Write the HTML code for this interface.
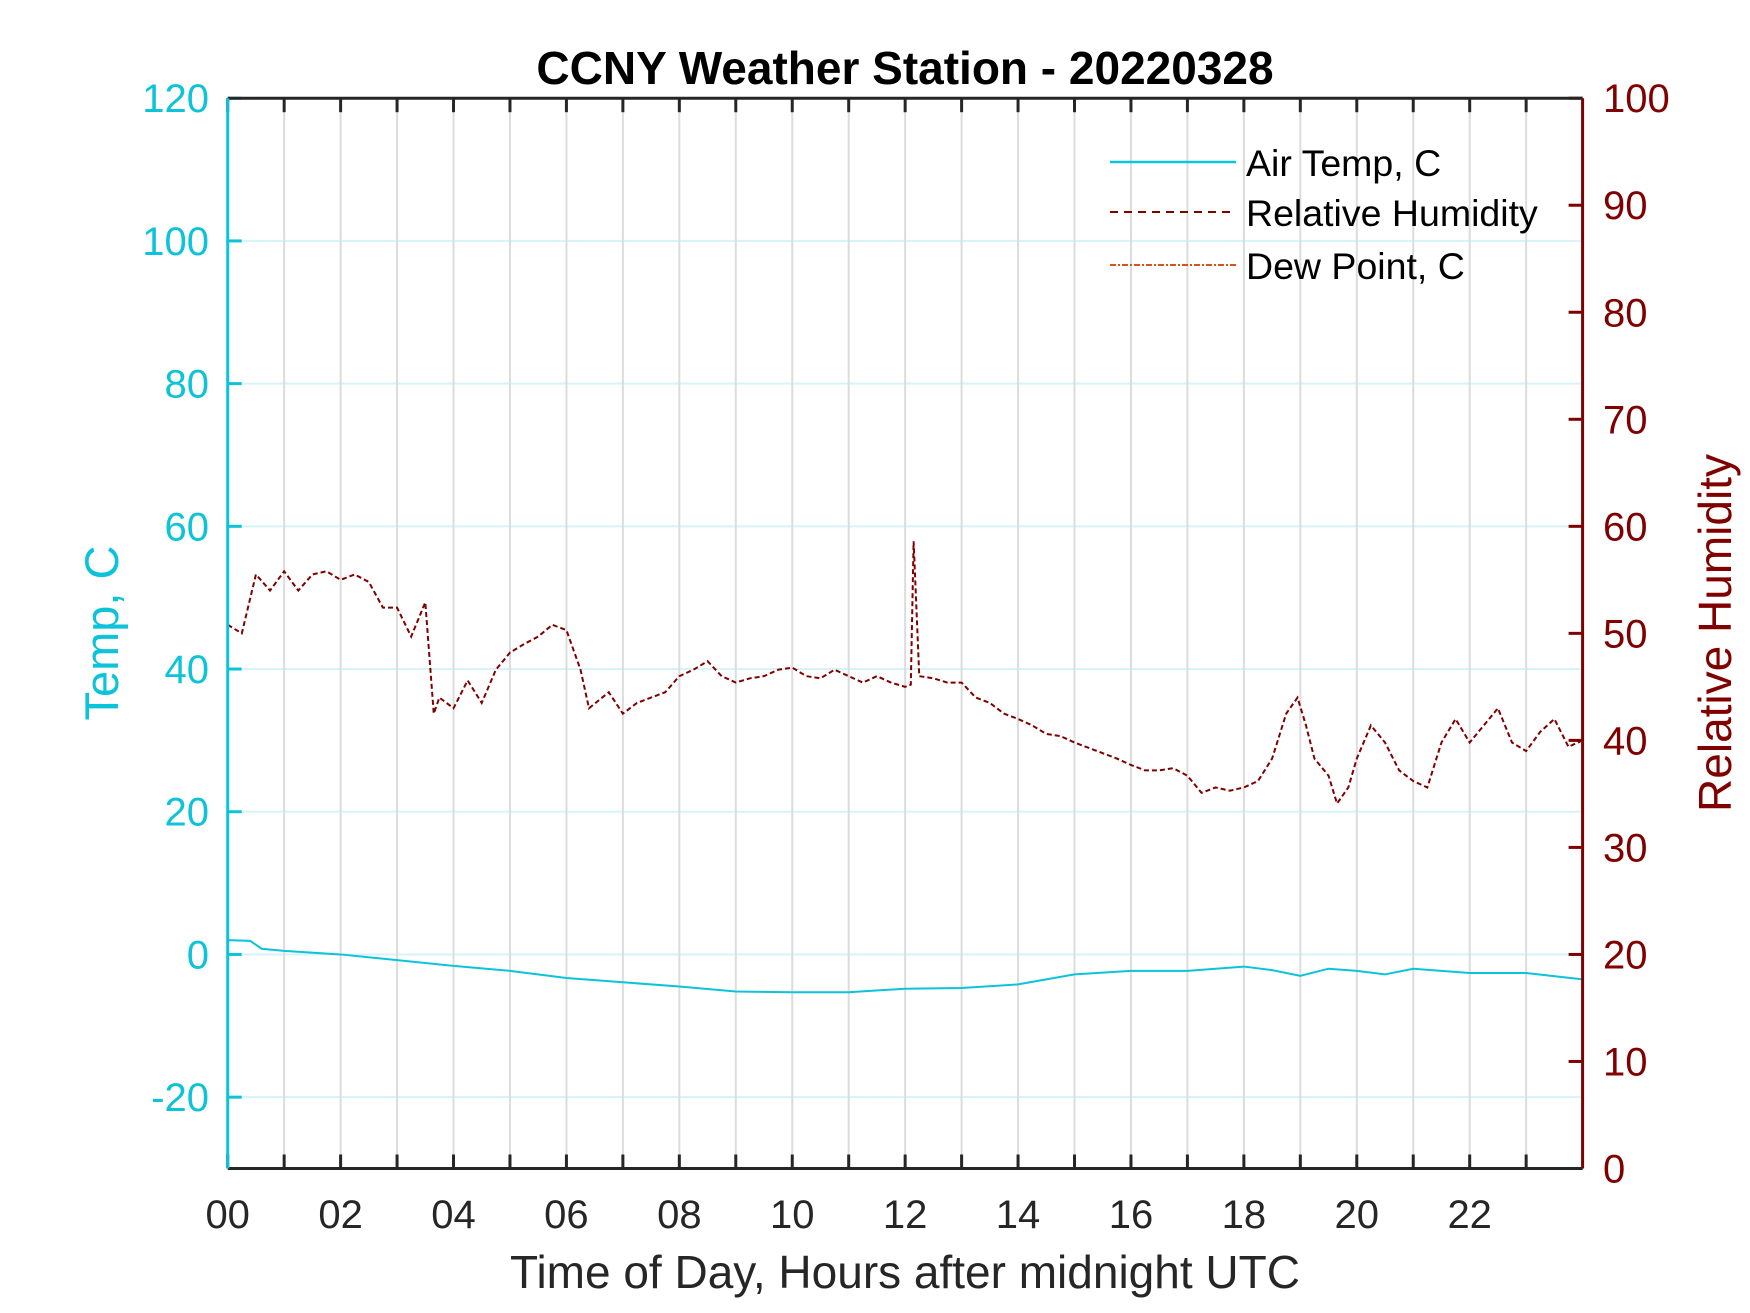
<!DOCTYPE html>
<html><head><meta charset="utf-8"><style>
html,body{margin:0;padding:0;background:#fff;}
svg{display:block;font-family:"Liberation Sans",Arial,sans-serif;}
</style></head><body>
<svg id="chart" width="1750" height="1313" viewBox="0 0 1750 1313" xmlns="http://www.w3.org/2000/svg">
<g id="grid"></g>
<g id="series"></g>
<g id="axes"></g>
<text x="905" y="84" text-anchor="middle" font-size="46" font-weight="bold" fill="#000">CCNY Weather Station - 20220328</text>
<text x="905" y="1288" text-anchor="middle" font-size="46" fill="#262626">Time of Day, Hours after midnight UTC</text>
<text transform="translate(118,633) rotate(-90)" text-anchor="middle" font-size="47" fill="#0cc3d9">Temp, C</text>
<text transform="translate(1731,633) rotate(-90)" text-anchor="middle" font-size="46" fill="#800000">Relative Humidity</text>
<g>
<line x1="1110" y1="162" x2="1236" y2="162" stroke="#0cc3d9" stroke-width="2.5"/>
<text x="1246" y="176" font-size="37.5" fill="#000">Air Temp, C</text>
<line x1="1110" y1="212" x2="1236" y2="212" stroke="#800000" stroke-width="2" stroke-dasharray="8,6"/>
<text x="1246" y="226" font-size="37.5" fill="#000">Relative Humidity</text>
<line x1="1110" y1="265" x2="1236" y2="265" stroke="#d95319" stroke-width="2" stroke-dasharray="6,2,2,2"/>
<text x="1246" y="279" font-size="37.5" fill="#000">Dew Point, C</text>
</g>
</svg>
<script>
const rhHours=[0,0.25,0.5,0.75,1,1.25,1.5,1.75,2,2.25,2.5,2.75,3,3.25,3.5,3.65,3.75,4,4.25,4.5,4.75,5,5.25,5.5,5.75,6,6.25,6.4,6.75,7,7.25,7.5,7.75,8,8.25,8.5,8.75,9,9.25,9.5,9.75,10,10.25,10.5,10.75,11,11.25,11.5,11.75,12,12.1,12.15,12.25,12.5,12.75,13,13.25,13.5,13.75,14,14.25,14.5,14.75,15,15.25,15.5,15.75,16,16.25,16.5,16.75,17,17.25,17.5,17.75,18,18.25,18.5,18.75,18.95,19.1,19.25,19.5,19.65,19.85,20,20.25,20.5,20.75,21,21.25,21.5,21.75,22,22.25,22.5,22.75,23,23.25,23.5,23.75,24];
const rhValues=[50.8,50,55.5,54,55.8,54,55.5,55.8,55,55.5,54.8,52.4,52.4,49.7,52.9,42.5,44,43,45.6,43.5,46.6,48.2,49,49.7,50.8,50.3,46.6,43,44.5,42.5,43.5,44,44.5,46,46.6,47.4,46,45.4,45.8,46,46.6,46.8,46,45.8,46.6,46,45.4,46,45.4,45,45.2,58.6,46,45.8,45.4,45.4,44,43.5,42.5,42,41.4,40.6,40.4,39.8,39.3,38.8,38.3,37.7,37.2,37.2,37.4,36.7,35.1,35.6,35.3,35.6,36.2,38.3,42.5,44,41.4,38.3,36.7,34.1,35.6,38.3,41.4,39.8,37.2,36.2,35.6,39.8,42,39.8,41.4,43,39.8,39,40.8,42,39.4,40];
const tempHours=[0,0.4,0.6,1,2,3,4,5,6,7,8,9,10,11,12,13,14,15,16,17,18,18.5,19,19.5,20,20.5,21,22,23,24];
const tempValues=[2.0,1.9,0.8,0.5,0,-0.8,-1.6,-2.3,-3.3,-3.9,-4.5,-5.2,-5.3,-5.3,-4.8,-4.7,-4.2,-2.8,-2.3,-2.3,-1.7,-2.2,-3.0,-2.0,-2.3,-2.8,-2.0,-2.6,-2.6,-3.5];
const xTickLabels=["00","02","04","06","08","10","12","14","16","18","20","22"];
const leftTicks=[-20,0,20,40,60,80,100,120];
const rightTicks=[0,10,20,30,40,50,60,70,80,90,100];

const X0=227.7,X1=1582.6,Y0=98.2,Y1=1168.5;
const NS="http://www.w3.org/2000/svg";
const xs=h=>X0+(h/24)*(X1-X0);
const yL=v=>Y1-((v+30)/150)*(Y1-Y0);
const yR=v=>Y1-(v/100)*(Y1-Y0);
function mk(tag,attrs,parent){const e=document.createElementNS(NS,tag);for(const k in attrs)e.setAttribute(k,attrs[k]);parent.appendChild(e);return e;}
const grid=document.getElementById('grid'),axes=document.getElementById('axes'),series=document.getElementById('series');

for(const v of leftTicks){
  const y=yL(v);
  const g=mk('line',{x1:X0,x2:X1,y1:y,y2:y,stroke:'#d6f3f7','stroke-width':2},grid);
  
  
  const t=mk('line',{x1:X0,x2:X0+14,y1:y,y2:y,stroke:'#0cc3d9','stroke-width':3},axes);
  
  
  const l=mk('text',{x:209,y:y+14,'text-anchor':'end','font-size':40,fill:'#0cc3d9'},axes);
  l.textContent=v;
  
  
}
for(let h=1;h<24;h++){
  const x=xs(h);
  const g=mk('line',{x1:x,x2:x,y1:Y0,y2:Y1,stroke:'#dcdcdc','stroke-width':2},grid);
  
  
}
for(let h=0;h<24;h++){
  const x=xs(h);
  const a=mk('line',{x1:x,x2:x,y1:Y1,y2:Y1-14,stroke:'#262626','stroke-width':3},axes);
  
  
  const b=mk('line',{x1:x,x2:x,y1:Y0,y2:Y0+14,stroke:'#262626','stroke-width':3},axes);
  
  
}
xTickLabels.forEach((s,i)=>{
  const l=mk('text',{x:xs(i*2),y:1228,'text-anchor':'middle','font-size':40,fill:'#262626'},axes);
  l.textContent=s;
  
  
});
for(const v of rightTicks){
  const y=yR(v);
  const t=mk('line',{x1:X1,x2:X1-14,y1:y,y2:y,stroke:'#800000','stroke-width':3},axes);
  
  
  const l=mk('text',{x:1603,y:y+14,'text-anchor':'start','font-size':40,fill:'#800000'},axes);
  l.textContent=v;
  
  
}
const ab=mk('line',{x1:X0,x2:X1,y1:Y1,y2:Y1,stroke:'#262626','stroke-width':3},axes);


const at=mk('line',{x1:X0,x2:X1,y1:Y0,y2:Y0,stroke:'#262626','stroke-width':3},axes);


const al=mk('line',{x1:X0,x2:X0,y1:Y0,y2:Y1,stroke:'#0cc3d9','stroke-width':3},axes);


const ar=mk('line',{x1:X1,x2:X1,y1:Y0,y2:Y1,stroke:'#800000','stroke-width':3},axes);



const tp=mk('polyline',{points:tempHours.map((h,i)=>xs(h)+','+yL(tempValues[i])).join(' '),fill:'none',stroke:'#0cc3d9','stroke-width':2},series);


const rp=mk('polyline',{points:rhHours.map((h,i)=>xs(h)+','+yR(rhValues[i])).join(' '),fill:'none',stroke:'#800000','stroke-width':2,'stroke-dasharray':'5,3'},series);


</script>
</body></html>
